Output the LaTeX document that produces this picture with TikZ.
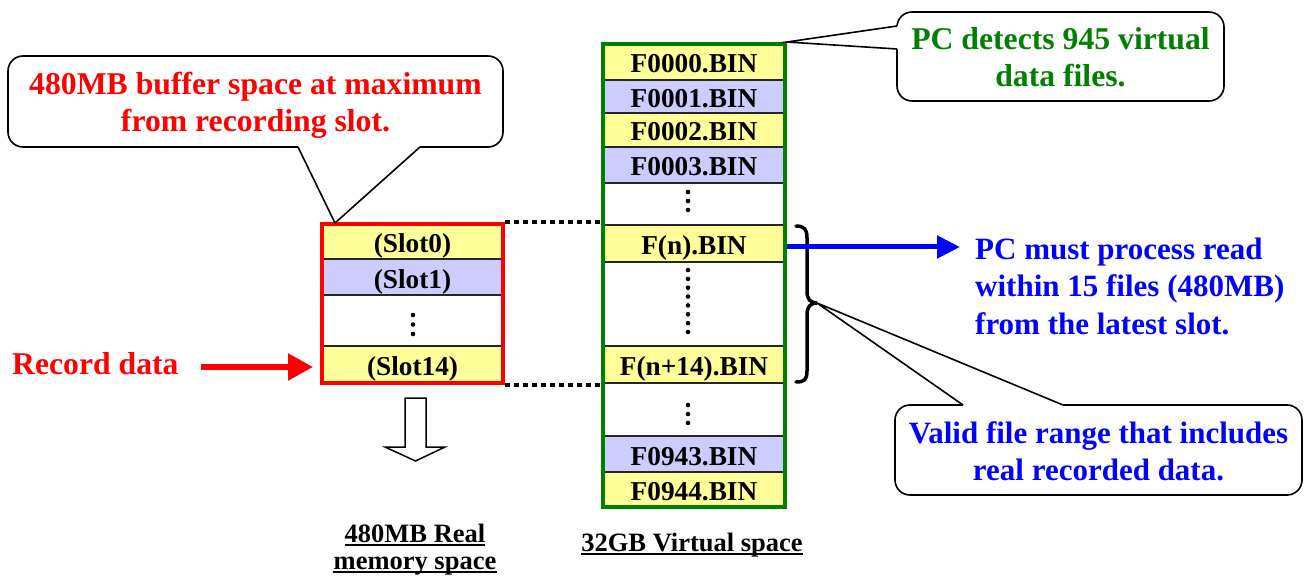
\documentclass[tikz,border=0pt]{standalone}
\usepackage{fontspec}
\setmainfont{Liberation Serif}
\usetikzlibrary{arrows.meta,calc}
\definecolor{rowyellow}{HTML}{FFFF99}
\definecolor{rowlav}{HTML}{CCCCFF}
\definecolor{filegreen}{HTML}{008000}
\begin{document}
\begin{tikzpicture}[x=1pt,y=-1pt,
  boxfont/.style={font=\fontsize{27.3}{30}\selectfont\bfseries},
  capfont/.style={font=\fontsize{26.5}{30}\selectfont\bfseries},
  notefont/.style={font=\fontsize{31.7}{37}\selectfont\bfseries},
  bluefont/.style={font=\fontsize{31}{37}\selectfont\bfseries},
  filerow/.style={boxfont, draw=black!85, line width=1.5pt, minimum width=182pt,
    inner sep=0pt, text height=18pt, text depth=0pt},
  slotrow/.style={filerow, minimum width=181pt},
  callout/.style={draw=black, line width=1.6pt, rounded corners=15pt,
    fill=white, inner sep=0pt},
  tailline/.style={draw=black, line width=1.6pt},
  vdot/.style={circle, fill=black, inner sep=0pt, minimum size=4.6pt},
  caption/.style={capfont, inner sep=0pt, anchor=base},
  capline/.style={line width=1.8pt},
]
\useasboundingbox (0,0) rectangle (1314,577);

% ---------- callout boxes and their texts ----------
\node[callout, minimum width=495pt, minimum height=91pt] (bufnote) at (255.5,101.5) {};
\node[notefont, text=red, align=center, inner sep=0pt] (buftext) at (255.5,105)
  {480MB buffer space at maximum\\from recording slot.};
\node[callout, minimum width=327pt, minimum height=89pt] (detnote) at (1060.5,56.5) {};
\node[notefont, text=filegreen, align=center, inner sep=0pt] (dettext) at (1060.5,57)
  {PC detects 945 virtual\\data files.};
\node[callout, minimum width=407pt, minimum height=90pt] (validnote) at (1098.5,450) {};
\node[bluefont, text=blue, align=center, inner sep=0pt] (validtext) at (1098.5,451)
  {Valid file range that includes\\real recorded data.};

% ---------- real memory (ring buffer slots) ----------
\node[slotrow, fill=rowyellow, minimum height=35pt] (s0) at (412.5,241.5) {\raisebox{-2pt}{(Slot0)}};
\node[slotrow, fill=rowlav, minimum height=36pt] (s1) at (412.5,277) {\raisebox{-2pt}{(Slot1)}};
\node[slotrow, fill=white, minimum height=51pt] (sgap) at (412.5,320.5) {};
\node[slotrow, fill=rowyellow, minimum height=37pt] (s14) at (412.5,364.5) {\raisebox{-2pt}{(Slot14)}};
\foreach \yy in {315,324.5,334} \node[vdot] at (413,\yy) {};
\node[draw=red, line width=4pt, minimum width=181pt, minimum height=159pt, inner sep=0pt]
  (rbuf) at (412.5,303.5) {};

% ---------- virtual file column ----------
\node[filerow, fill=rowyellow, minimum height=36pt] (f0) at (694,62) {\raisebox{-2pt}{F0000.BIN}};
\node[filerow, fill=rowlav, minimum height=33pt] (f1) at (694,96.5) {\raisebox{-2pt}{F0001.BIN}};
\node[filerow, fill=rowyellow, minimum height=34pt] (f2) at (694,130) {\raisebox{-2pt}{F0002.BIN}};
\node[filerow, fill=rowlav, minimum height=36pt] (f3) at (694,165) {\raisebox{-2pt}{F0003.BIN}};
\node[filerow, fill=white, minimum height=42pt] (gap1) at (694,204) {};
\node[filerow, fill=rowyellow, minimum height=37pt] (fn) at (694,243.5) {\raisebox{-2pt}{F(n).BIN}};
\node[filerow, fill=white, minimum height=84pt] (gap2) at (694,304) {};
\node[filerow, fill=rowyellow, minimum height=37pt] (fn14) at (694,364.5) {\raisebox{-2pt}{F(n+14).BIN}};
\node[filerow, fill=white, minimum height=53pt] (gap3) at (694,409.5) {};
\node[filerow, fill=rowlav, minimum height=36pt] (f943) at (694,454) {\raisebox{-2pt}{F0943.BIN}};
\node[filerow, fill=rowyellow, minimum height=35pt] (f944) at (694,489.5) {\raisebox{-2pt}{F0944.BIN}};
\foreach \yy in {192,201,210} \node[vdot] at (688,\yy) {};
\foreach \i in {0,...,7} \node[vdot] at (688,270+8.86*\i) {};
\foreach \yy in {405,414,423} \node[vdot] at (688,\yy) {};
\node[draw=filegreen, line width=4pt, minimum width=182pt, minimum height=463pt, inner sep=0pt]
  (vcol) at (694,275.5) {};

% ---------- mapping of the buffer onto the file window ----------
\draw[line width=4pt, dash pattern=on 4.5pt off 4.5pt]
  (rbuf.north east) -- (rbuf.north east -| vcol.west);
\draw[line width=4pt, dash pattern=on 4.5pt off 4.5pt]
  (rbuf.south east) -- (rbuf.south east -| vcol.west);

% ---------- brace over the valid window ----------
\coordinate (brtip) at (817,303);
\draw[line width=3.5pt, line cap=round]
  (796,226) .. controls (804,226) and (807,229) .. (807,238) -- (807,291)
  .. controls (807,299) and (810,303) .. (brtip)
  .. controls (810,303) and (807,307) .. (807,315) -- (807,371)
  .. controls (807,380) and (804,382) .. (796,382);

% ---------- callout tails ----------
\coordinate (bufA) at (298,147);
\coordinate (bufB) at (420,147);
\coordinate (bufT) at (335,223);
\fill[white] ($(bufA)+(1,-3)$) -- (bufA) -- (bufT) -- (bufB) -- ($(bufB)+(-1,-3)$) -- cycle;
\draw[tailline] (bufA) -- (bufT) -- (bufB);

\coordinate (detA) at (897,26);
\coordinate (detB) at (897,49);
\fill[white] ($(detA)+(3,1)$) -- (detA) -- (vcol.north east) -- (detB) -- ($(detB)+(3,-1)$) -- cycle;
\draw[tailline] (detA) -- (vcol.north east) -- (detB);

\coordinate (valA) at (963,405);
\coordinate (valB) at (1063,405);
\fill[white] ($(valA)+(1,3)$) -- (valA) -- (brtip) -- (valB) -- ($(valB)+(-1,3)$) -- cycle;
\draw[tailline] (valA) -- (brtip) -- (valB);

% ---------- read instruction ----------
\coordinate (pcend) at (960,247);
\draw[blue, line width=5pt, -{Triangle[length=23pt,width=22pt]}]
  (vcol.east |- pcend) -- (pcend);
\node[text=blue, anchor=west, align=left, inner sep=0pt,
  font=\fontsize{31}{37.5}\selectfont\bfseries] (pcnote) at (975,286)
  {PC must process read\\within 15 files (480MB)\\from the latest slot.};

% ---------- incoming data ----------
\node[notefont, text=red, anchor=west, inner sep=0pt] (rec) at (12,364) {Record data};
\coordinate (recend) at (313,367);
\draw[red, line width=5.5pt, -{Triangle[length=25pt,width=26pt]}, shorten <=22pt]
  (rec.east |- recend) -- (recend);

% ---------- hollow arrow below the buffer ----------
\draw[line width=1.5pt, fill=white]
  (405,398) -- (426,398) -- (426,447) -- (445,447) -- (415.5,461) -- (385,447) -- (405,447) -- cycle;

% ---------- captions ----------
\node[caption] (cap1) at (415,542) {480MB Real};
\node[caption] (cap2) at (415,569) {memory space};
\node[caption] (cap3) at (692,551) {32GB Virtual space};
\foreach \c in {cap1,cap2,cap3}
  \draw[capline] ([yshift=-3pt]\c.base west) -- ([yshift=-3pt]\c.base east);
\end{tikzpicture}
\end{document}
